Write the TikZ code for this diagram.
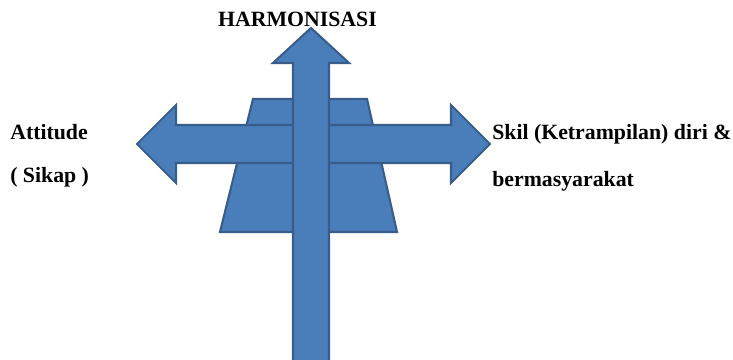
\documentclass[tikz,border=0pt]{standalone}
\usepackage{fontspec}
\setmainfont{Liberation Serif}
\definecolor{biru}{HTML}{4A7EBB}
\definecolor{birutua}{HTML}{385D8A}
\tikzset{
  bentuk/.style={fill=biru, draw=birutua, line width=1.5pt, line join=miter},
  teks/.style={font=\bfseries\fontsize{15.5}{18}\selectfont, inner sep=0pt}
}

\begin{document}
\begin{tikzpicture}[x=0.025cm, y=-0.025cm]
  \useasboundingbox (0,0) rectangle (733,360);

  % Trapesium
  \draw[bentuk] (253,99) -- (367,99) -- (397,232) -- (220,232) -- cycle;

  % Panah kiri-kanan
  \draw[bentuk] (137,144) -- (176,105) -- (176,125) -- (451,125) -- (451,105)
    -- (490,144) -- (451,183) -- (451,163) -- (176,163) -- (176,183) -- cycle;

  % Panah atas
  \draw[bentuk] (311,28) -- (349,63) -- (329,63) -- (329,366) -- (293,366)
    -- (293,63) -- (273,63) -- cycle;

  % Teks
  \node[teks, anchor=base] (harmoni) at (297.5,27) {HARMONISASI};

  \node[teks, anchor=base west] (sikap1) at (10,140) {Attitude};
  \node[teks, anchor=base west] (sikap2) at (10,183) {( Sikap )};

  \node[teks, anchor=base west] (skil1) at (492,140) {Skil (Ketrampilan) diri \&};
  \node[teks, anchor=base west] (skil2) at (492,187) {bermasyarakat};

\end{tikzpicture}
\end{document}
